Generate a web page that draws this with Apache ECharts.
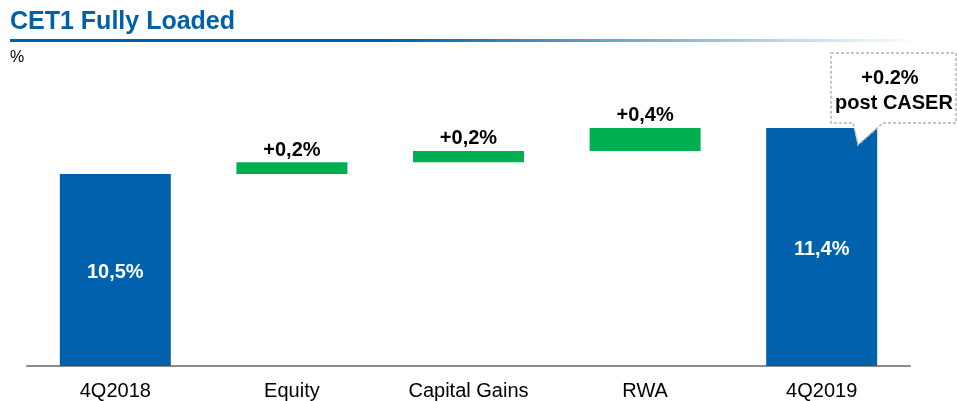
<!DOCTYPE html>
<html>
<head>
<meta charset="utf-8">
<script src="https://cdn.jsdelivr.net/npm/echarts@6/dist/echarts.min.js"></script>
<style>
  html, body { margin: 0; padding: 0; background: #fff; }
  #main { width: 957px; height: 401px; }
</style>
</head>
<body>
<div id="main"></div>
<script>
// data
var categories = ['4Q2018', 'Equity', 'Capital Gains', 'RWA', '4Q2019'];
var totals = [10.5, '-', '-', '-', 11.4];
var deltas = ['-', 0.23, 0.22, 0.45, '-'];
var labelTexts = ['10,5%', '+0,2%', '+0,2%', '+0,4%', '11,4%'];

// invisible base for the floating bars (running sum)
var base = [];
var running = 0;
for (var i = 0; i < categories.length; i++) {
    if (totals[i] !== '-') {
        running = totals[i];
        base.push('-');
    } else {
        base.push(running);
        running = running + deltas[i];
    }
}

var chart = echarts.init(document.getElementById('main'));
var font = 'Liberation Sans, Arial, sans-serif';
var blue = '#0061AD';
var green = '#00B050';

var option = {
    animation: false,
    grid: { left: 27, right: 47, top: 60, bottom: 35 },
    xAxis: {
        type: 'category',
        data: categories,
        axisLine: { lineStyle: { color: '#8c8c8c', width: 2 } },
        axisTick: { show: false },
        axisLabel: { color: '#000', fontSize: 20, fontFamily: font, margin: 15 }
    },
    yAxis: {
        type: 'value',
        min: 6.74,
        max: 12.73,
        show: false,
        splitLine: { show: false }
    },
    series: [
        {
            type: 'bar',
            stack: 'w',
            data: base,
            barWidth: 111,
            itemStyle: { color: 'transparent' },
            silent: true
        },
        {
            type: 'bar',
            stack: 'w',
            data: totals,
            barWidth: 111,
            itemStyle: { color: blue },
            label: {
                show: true,
                position: 'inside',
                offset: [0, 3],
                color: '#fff',
                fontSize: 20,
                fontWeight: 'bold',
                fontFamily: font,
                formatter: function (p) { return labelTexts[p.dataIndex]; }
            }
        },
        {
            type: 'bar',
            stack: 'w',
            data: deltas,
            barWidth: 111,
            itemStyle: { color: green },
            label: {
                show: true,
                position: 'top',
                distance: 2,
                color: '#000',
                fontSize: 20,
                fontWeight: 'bold',
                fontFamily: font,
                formatter: function (p) { return labelTexts[p.dataIndex]; }
            }
        }
    ],
    graphic: [
        {
            type: 'text',
            left: 10, top: 10,
            style: { text: 'CET1 Fully Loaded', fill: '#0060A8', font: 'bold 25px ' + font }
        },
        {
            type: 'rect',
            shape: { x: 10, y: 39, width: 947, height: 3 },
            style: {
                fill: new echarts.graphic.LinearGradient(0, 0, 1, 0, [
                    { offset: 0, color: '#0060A8' },
                    { offset: 0.4, color: '#0060A8' },
                    { offset: 0.96, color: '#ffffff' },
                    { offset: 1, color: '#ffffff' }
                ])
            }
        },
        {
            type: 'text',
            left: 10, top: 50,
            style: { text: '%', fill: '#000', font: '16px ' + font }
        },
        {
            type: 'polygon',
            z: 100,
            shape: { points: [[831, 53], [956, 53], [956, 123], [883, 123], [858, 145], [853, 123], [831, 123]] },
            style: { fill: '#fff', stroke: '#b4b4b4', lineWidth: 1.5, lineDash: [3, 2] }
        },
        {
            type: 'text',
            z: 101,
            x: 890, y: 78,
            style: { text: '+0.2%', fill: '#000', font: 'bold 20px ' + font, align: 'center', verticalAlign: 'middle' }
        },
        {
            type: 'text',
            z: 101,
            x: 894, y: 103,
            style: { text: 'post CASER', fill: '#000', font: 'bold 20px ' + font, align: 'center', verticalAlign: 'middle' }
        }
    ]
};

chart.setOption(option);
</script>
</body>
</html>
